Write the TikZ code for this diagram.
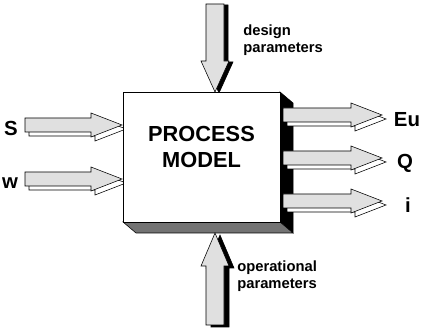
\documentclass[tikz,border=0pt]{standalone}
\usepackage{fontspec}
\setmainfont{Liberation Sans}

\tikzset{
  face/.style={draw, fill=black!12},
  rim/.style={draw, fill=white},
  shade/.style={draw, fill=black},
  lbl/.style={font=\bfseries\fontsize{14.5}{16}\selectfont, inner sep=0pt},
  note/.style={font=\bfseries\fontsize{10.5}{12.5}\selectfont, align=left, inner sep=0pt, anchor=west},
}

% block arrows: style, start, tip, centre line
\newcommand{\rarrow}[4]{\draw[#1] (#2,#4+7) -- (#3-31,#4+7) -- (#3-31,#4+12) -- (#3,#4)
  -- (#3-31,#4-12) -- (#3-31,#4-7) -- (#2,#4-7) -- cycle;}
\newcommand{\darrow}[4]{\draw[#1] (#2-9,#3) -- (#2-9,#4+31) -- (#2-14,#4+31) -- (#2,#4)
  -- (#2+14,#4+31) -- (#2+9,#4+31) -- (#2+9,#3) -- cycle;}
\newcommand{\uarrow}[4]{\draw[#1] (#2-9,#3) -- (#2-9,#4-33) -- (#2-14,#4-33) -- (#2,#4)
  -- (#2+14,#4-33) -- (#2+9,#4-33) -- (#2+9,#3) -- cycle;}

\begin{document}
\begin{tikzpicture}[x=0.025cm,y=0.025cm]
\useasboundingbox (0,0) rectangle (421,328);

\foreach \y in {203,149}{
  \rarrow{rim,shift={(4,-4)}}{25}{122}{\y}
  \rarrow{face}{25}{122}{\y}
}
\darrow{shade,shift={(4,-1)}}{215}{324}{236}
\darrow{face}{215}{324}{236}

% the model block with its side and bottom faces
\filldraw[fill=black] (280,236) -- (293,225) -- (293,95) -- (280,106) -- cycle;
\filldraw[fill=black!55] (123,106) -- (280,106) -- (293,95) -- (136,95) -- cycle;
\node[draw, fill=white, minimum width=3.925cm, minimum height=3.25cm] (model) at (201.5,171) {};
\node[font=\bfseries\fontsize{15.5}{18}\selectfont, align=center] (title) at ([yshift=0.25cm]model.center) {PROCESS\\MODEL};

\foreach \y in {213,170,127}{
  \rarrow{rim,shift={(4,-4)}}{283}{382}{\y}
  \rarrow{face}{283}{382}{\y}
}
\uarrow{shade,shift={(5,-2)}}{215}{3}{95}
\uarrow{face}{215}{3}{95}

\node[lbl] (s) at (11,200) {S};
\node[lbl] (w) at (10,145) {w};
\node[lbl] (eu) at (407,208) {Eu};
\node[lbl] (q) at (405,165) {Q};
\node[lbl] (i) at (408,123) {i};
\node[note] (design) at (243,288) {design\\parameters};
\node[note] (oper) at (237,52) {operational\\parameters};
\end{tikzpicture}
\end{document}
